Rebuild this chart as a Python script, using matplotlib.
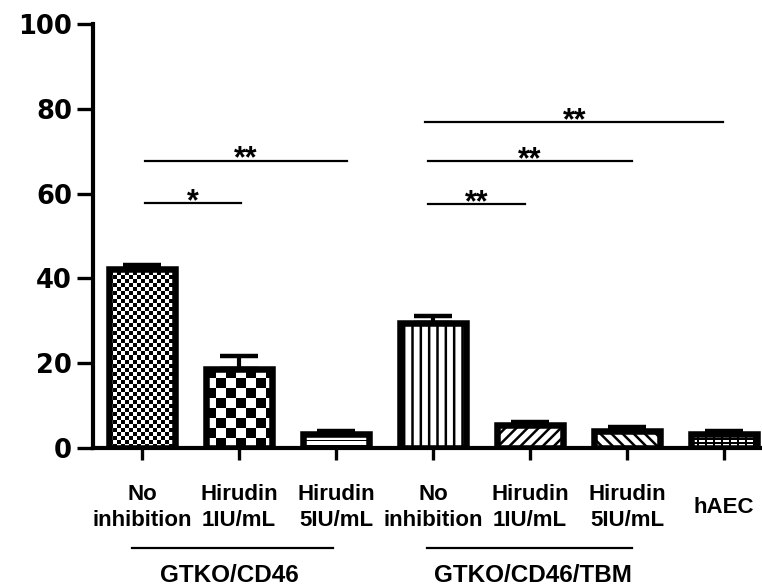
import numpy as np
import matplotlib
matplotlib.use("Agg")
import matplotlib.pyplot as plt
from matplotlib.transforms import blended_transform_factory

# Group means and upper error (percent)
labels = ["No\ninhibition", "Hirudin\n1IU/mL", "Hirudin\n5IU/mL",
          "No\ninhibition", "Hirudin\n1IU/mL", "Hirudin\n5IU/mL", "hAEC"]
means = [42.3, 18.6, 3.2, 29.5, 5.4, 4.0, 3.3]
errors = [0.9, 3.2, 0.7, 1.7, 0.7, 1.0, 0.8]

# Significance brackets: (left bar, right bar, height, stars)
sig_x0 = [0.03, 0.03, 2.95, 2.95, 2.92]
sig_x1 = [1.02, 2.11, 3.95, 5.05, 5.99]
sig_y = [57.8, 67.8, 57.5, 67.7, 76.9]
sig_text = ["*", "**", "**", "**", "**"]

group_names = ["GTKO/CD46", "GTKO/CD46/TBM"]
group_x0 = [-0.10, 2.94]
group_x1 = [1.97, 5.05]
group_mid = [0.90, 4.03]

plt.rcParams["font.family"] = ["Liberation Sans", "DejaVu Sans"]
plt.rcParams["font.weight"] = "bold"
plt.rcParams["hatch.linewidth"] = 1.8


def checker(s):
    i, j = np.indices((2 * s, 2 * s))
    return ((i // s + j // s) % 2).astype(float)


def hlines_tile():
    t = np.zeros((5, 4))
    t[2, :] = 1
    return t


def dash_tile():
    t = np.ones((4, 8))
    t[2:4, 0:6] = 0
    return t


def fill_texture(ax, bar, tile):
    x0 = bar.get_x()
    x1 = x0 + bar.get_width()
    (px0, py0), (px1, py1) = ax.transData.transform([(x0, 0), (x1, bar.get_height())])
    w = int(round(abs(px1 - px0)))
    h = int(round(abs(py1 - py0)))
    reps = (h // tile.shape[0] + 2, w // tile.shape[1] + 2)
    img = np.tile(tile, reps)[:h, :w]
    im = ax.imshow(img, cmap="gray_r", vmin=0, vmax=1, interpolation="nearest",
                   extent=(x0, x1, 0, bar.get_height()), aspect="auto",
                   origin="lower", zorder=1)
    im.set_clip_path(bar)


fig = plt.figure(figsize=(7.62, 5.87), dpi=100)
ax = fig.add_axes([93 / 762, 139 / 587, 669 / 762, 424 / 587])
ax.set_xlim(-0.505, 6.39)
ax.set_ylim(0, 100)

x = np.arange(len(means))
bars = ax.bar(x, means, width=0.68, color="white", edgecolor="black",
              linewidth=4.7, zorder=2)

textures = {0: checker(4), 1: checker(10), 2: hlines_tile(), 6: dash_tile()}
hatches = {3: "||", 4: "///", 5: "\\\\\\"}
for k, b in enumerate(bars):
    if k in textures:
        b.set_facecolor("none")
        fill_texture(ax, b, textures[k])
    else:
        b.set_hatch(hatches[k])

ax.errorbar(x, means, yerr=[np.zeros(len(x)), errors], fmt="none",
            ecolor="black", elinewidth=3, capsize=13.5, capthick=3.2, zorder=3)

ax.set_xlim(-0.505, 6.39)
ax.set_ylim(0, 100)

for s in ["top", "right"]:
    ax.spines[s].set_visible(False)
for s in ["left", "bottom"]:
    ax.spines[s].set_linewidth(3)

ax.set_yticks(np.arange(0, 101, 20))
ax.set_yticklabels([str(v) for v in range(0, 101, 20)],
                   fontfamily="DejaVu Sans", fontsize=18.5, fontweight="bold")
ax.tick_params(axis="y", length=11.5, width=2.4, pad=3.5)

ax.set_xticks(x)
ax.set_xticklabels(labels, fontsize=16, fontweight="bold", va="center",
                   linespacing=1.3)
ax.tick_params(axis="x", length=8.6, width=2.4, pad=34)

for x0, x1, y, t in zip(sig_x0, sig_x1, sig_y, sig_text):
    ax.plot([x0, x1], [y, y], color="black", lw=1.6, zorder=3)
    ax.annotate(t, xy=((x0 + x1) / 2, y), xytext=(0, -5), textcoords="offset points",
                ha="center", va="baseline", fontsize=22, fontweight="bold")

trans = blended_transform_factory(ax.transData, ax.transAxes)
for name, x0, x1, xm in zip(group_names, group_x0, group_x1, group_mid):
    ax.plot([x0, x1], [-0.236, -0.236], color="black", lw=1.6,
            transform=trans, clip_on=False)
    ax.text(xm, -0.30, name, transform=trans, ha="center", va="center",
            fontsize=17.5, fontweight="bold")

fig.savefig("out.png", dpi=100)
